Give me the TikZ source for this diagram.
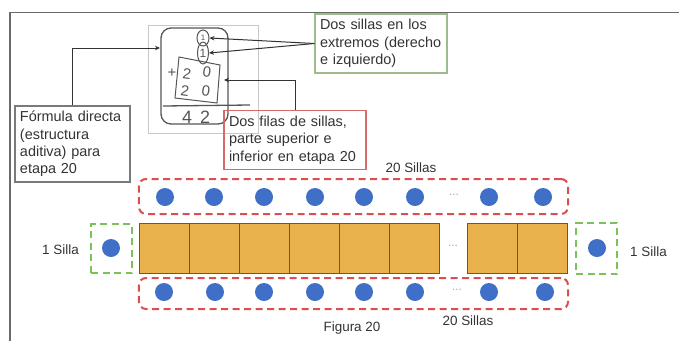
\documentclass[tikz,border=0pt]{standalone}
\usepackage{fontspec}
\setmainfont{Liberation Sans}
\usetikzlibrary{arrows.meta,shapes.geometric}
\definecolor{txt}{HTML}{333333}
\definecolor{framegray}{HTML}{6A6A6A}
\definecolor{seatblue}{HTML}{3F6FC6}
\definecolor{tableor}{HTML}{E9B24C}
\definecolor{tableedge}{HTML}{5C5C4C}
\definecolor{dred}{HTML}{DC4E4E}
\definecolor{dgreen}{HTML}{7CC25A}
\definecolor{boxgray}{HTML}{7A7A7A}
\definecolor{boxred}{HTML}{D46A6A}
\definecolor{boxgreen}{HTML}{9CBC8C}
\definecolor{photogray}{HTML}{C8C8C8}
\definecolor{pencil}{HTML}{555555}
\begin{document}
\begin{tikzpicture}[x=1bp,y=-1bp,
 tbox/.style={draw, line width=1.2bp, align=left, inner sep=5bp, font=\fontsize{14.5}{17.5}\selectfont, text=txt, anchor=center},
 arr/.style={draw=txt, line width=1bp, -{Stealth[length=5bp,width=4.5bp]}},
 seat/.style={circle, fill=seatblue, minimum size=18bp, inner sep=0pt},
 tablesq/.style={draw=tableedge, fill=tableor, line width=1bp, minimum size=50bp, inner sep=0pt},
 dashred/.style={draw=dred, line width=2bp, dash pattern=on 7bp off 4.5bp, rounded corners=7bp, inner sep=0pt},
 dashgreen/.style={draw=dgreen, line width=2bp, dash pattern=on 7bp off 4.5bp, inner sep=0pt},
 lbl/.style={text=txt, font=\fontsize{13.5}{16}\selectfont, inner sep=0pt},
 dotsl/.style={text=gray, font=\fontsize{10}{12}\selectfont, inner sep=0pt},
 hand/.style={text=pencil, font=\fontsize{15}{15}\selectfont, inner sep=0pt},
 oval/.style={ellipse, draw=pencil, line width=1bp, inner sep=0pt},
]
\useasboundingbox (0,0) rectangle (679,341);
% frame
\draw[framegray, line width=1.6bp] (10,341) -- (10,12.5) -- (679,12.5);

% photo of handwriting
\node[draw=photogray, line width=1bp, minimum width=110bp, minimum height=108bp, inner sep=0pt] (photo) at (203,79) {};
\node[draw=pencil, line width=1.3bp, rounded corners=10bp, minimum width=67bp, minimum height=96bp, inner sep=0pt] (rr) at (194.5,76) {};
\node[oval, minimum width=12bp, minimum height=16bp] (c1) at (203,38) {};
\node[text=pencil, font=\fontsize{8}{8}\selectfont, inner sep=0pt] at (203,38) {1};
\node[oval, minimum width=11bp, minimum height=22bp] (c2) at (203,53) {};
\node[text=pencil, font=\fontsize{12}{12}\selectfont, inner sep=0pt] at (203,53) {1};
\draw[pencil, line width=1bp] (179,57) -- (220,65) -- (217,103) -- (175,98) -- cycle;
\node[hand] at (172,73) {+};
\node[hand, rotate=-8] at (187,74) {2};
\node[hand, rotate=-8] at (207,72) {0};
\node[hand, rotate=-8] at (185,91) {2};
\node[hand, rotate=-8] at (206,91) {0};
\draw[pencil, line width=1.3bp] (163,106) -- (250,105);
\node[hand, font=\fontsize{18}{18}\selectfont] at (187,117) {4};
\node[hand, font=\fontsize{18}{18}\selectfont] at (205,117) {2};

% text boxes
\node[tbox, draw=boxgray, minimum width=115bp, minimum height=74bp, text width=105bp] (lbox) at (72.5,144)
 {Fórmula directa\\(estructura\\aditiva) para\\etapa 20};
\node[tbox, draw=boxred, minimum width=142bp, minimum height=56bp, text width=132bp] (rbox) at (295,140)
 {Dos filas de sillas,\\parte superior e\\inferior en etapa 20};
\node[tbox, draw=boxgreen, minimum width=132bp, minimum height=59bp, text width=122bp] (gbox) at (381,43.5)
 {Dos sillas en los\\extremos (derecho\\e izquierdo)};

% connectors
\coordinate (ptL) at (160,48);
\coordinate (ptR) at (224,80);
\draw[arr] (lbox.north) |- (ptL);
\draw[arr] (gbox.west) -- (c1.east);
\draw[arr] (gbox.west) -- (c2.east);
\draw[arr] (rbox.north) |- (ptR);

% dashed groups
\node[dashred, minimum width=429bp, minimum height=35bp] (topgrp) at (353.5,196.5) {};
\node[dashred, minimum width=429bp, minimum height=31bp] (botgrp) at (353.5,293.5) {};
\node[dashgreen, minimum width=41bp, minimum height=49bp] (lgrp) at (111.5,248.5) {};
\node[dashgreen, minimum width=41bp, minimum height=51bp] (rgrp) at (596.5,248.5) {};

% tables
\foreach \x [count=\i] in {164,214,264,314,364,414,492,542}
  \node[tablesq] (tb\i) at (\x,248) {};
% seats
\foreach \x [count=\i] in {165,214,264,315,364,415,489,543}
  \node[seat] (ts\i) at (\x,197) {};
\foreach \x [count=\i] in {164,215,264,315,364,415,489,545}
  \node[seat] (bs\i) at (\x,292) {};
\node[seat] (ls) at (111,248) {};
\node[seat] (rs) at (597,248) {};
% ellipses
\node[dotsl] (d1) at (454,196) {···};
\node[dotsl] (d2) at (453,247) {···};
\node[dotsl] (d3) at (457,291) {···};

% labels
\node[lbl] (l1) at (60.5,250) {1 Silla};
\node[lbl] (l2) at (648.5,252) {1 Silla};
\node[lbl] (l3) at (411,168) {20 Sillas};
\node[lbl] (l4) at (468,321) {20 Sillas};
\node[lbl] (l5) at (352,328) {Figura 20};
\end{tikzpicture}
\end{document}
